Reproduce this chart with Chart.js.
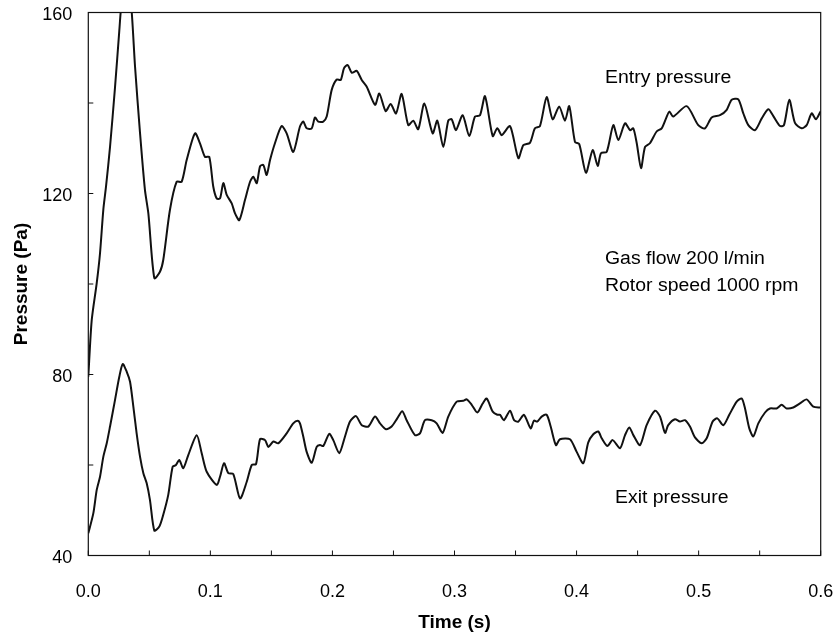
<!DOCTYPE html>
<html>
<head>
<meta charset="utf-8">
<script src="https://cdn.jsdelivr.net/npm/chart.js@4.4.0/dist/chart.umd.min.js"></script>
<style>
  html, body { margin: 0; padding: 0; background: #fff; }
  #c { display: block; }
</style>
</head>
<body>
<canvas id="c" width="837" height="637" style="width:837px;height:637px"></canvas>
<script>
// values
const entryTime = [0, 0.0028, 0.0069, 0.0096, 0.0123, 0.0145, 0.0178, 0.0219, 0.0254, 0.0265,
  0.031, 0.0356, 0.0383, 0.0424, 0.0464, 0.0492, 0.0541, 0.0587, 0.0614, 0.0669,
  0.0724, 0.0765, 0.0806, 0.0874, 0.0915, 0.0956, 0.0991, 0.1024, 0.1052, 0.1079,
  0.1106, 0.1134, 0.1175, 0.1202, 0.1237, 0.1284, 0.1325, 0.1352, 0.1380, 0.1407,
  0.1434, 0.1461, 0.1489, 0.1529, 0.1584, 0.1625, 0.1679, 0.1734, 0.1761, 0.1789,
  0.1830, 0.1857, 0.1884, 0.1925, 0.1953, 0.1994, 0.2035, 0.2068, 0.2095, 0.2125,
  0.2158, 0.2199, 0.2240, 0.2281, 0.2349, 0.2384, 0.2436, 0.2477, 0.2521, 0.2567,
  0.2621, 0.2662, 0.2703, 0.2753, 0.2821, 0.2859, 0.2908, 0.2949, 0.2977, 0.3012,
  0.3067, 0.3121, 0.3168, 0.3209, 0.3250, 0.3313, 0.3351, 0.3387, 0.3455, 0.3523,
  0.3564, 0.3618, 0.3659, 0.3700, 0.3755, 0.3804, 0.3858, 0.3905, 0.3940, 0.3987,
  0.4022, 0.4077, 0.4132, 0.4173, 0.4200, 0.4247, 0.4301, 0.4342, 0.4397, 0.4438,
  0.4465, 0.4493, 0.4528, 0.4561, 0.4601, 0.4656, 0.4697, 0.4733, 0.4760, 0.4792,
  0.4902, 0.4997, 0.5052, 0.5107, 0.5175, 0.5230, 0.5271, 0.5325, 0.5366, 0.5407,
  0.5462, 0.5517, 0.5571, 0.5612, 0.5667, 0.5699, 0.5743, 0.5789, 0.5844, 0.5885,
  0.5926, 0.5961, 0.6];
const entryPressure = [79.5, 92, 100.2, 106.8, 116.4, 121.5, 130.3, 143.5, 156, 160,
  173, 160, 148, 133.3, 120.8, 115.6, 101.3, 102.7, 105.3, 116.4,
  122.6, 122.6, 127.4, 133.3, 131.1, 128.1, 128.1, 121.5, 118.9, 118.9,
  122.3, 119.7, 117.8, 115.6, 114.1, 118.6, 122.6, 123.7, 122.3, 126,
  126.3, 124.1, 127.4, 131.1, 134.9, 133.3, 129.2, 134.8, 135.9, 134.4,
  134.4, 136.8, 135.9, 135.9, 137, 142.9, 145.2, 145.1, 147.7, 148.4,
  146.7, 147.1, 145.1, 143.6, 139.6, 142.1, 138.2, 139.8, 137.7, 142,
  135.1, 136.1, 134.2, 139.9, 133.3, 136.1, 130.3, 136.1, 136.4, 134,
  137.3, 132.7, 137, 137.3, 141.5, 132.7, 134.4, 132.9, 134.9, 127.8,
  130.7, 131.2, 134.4, 134.9, 141.3, 136.4, 139.2, 136.1, 139.3, 131.4,
  130.9, 124.6, 129.6, 126.1, 128.9, 129.2, 135.1, 131.8, 135.5, 134,
  134.4, 131.1, 125.6, 130.3, 131.1, 133.7, 134.4, 136.6, 138.1, 137,
  139.3, 135.1, 134.4, 136.8, 137.3, 138.5, 140.7, 140.8, 137.7, 135.1,
  134, 136.6, 138.6, 137.1, 134.9, 135.1, 140.7, 135.6, 134.4, 135.1,
  137.7, 136.4, 138.2];

const exitTime = [0, 0.0041, 0.0069, 0.0096, 0.0123, 0.0151, 0.0178, 0.0219, 0.0254, 0.0282,
  0.0315, 0.0342, 0.0369, 0.0396, 0.0424, 0.0451, 0.0478, 0.0505, 0.0541, 0.0582,
  0.0614, 0.0655, 0.0691, 0.0718, 0.0745, 0.0778, 0.0819, 0.0888, 0.0929, 0.0970,
  0.1052, 0.1079, 0.1112, 0.1147, 0.1188, 0.1243, 0.1298, 0.1339, 0.1374, 0.1407,
  0.1448, 0.1475, 0.1516, 0.1556, 0.1625, 0.1679, 0.1715, 0.1734, 0.1761, 0.1789,
  0.1830, 0.1871, 0.1898, 0.1925, 0.1974, 0.2007, 0.2056, 0.2103, 0.2144, 0.2193,
  0.2240, 0.2294, 0.2349, 0.2390, 0.2439, 0.2485, 0.2531, 0.2572, 0.2608, 0.2676,
  0.2717, 0.2758, 0.2813, 0.2854, 0.2903, 0.2949, 0.3018, 0.3072, 0.3100, 0.3141,
  0.3187, 0.3231, 0.3264, 0.3313, 0.3351, 0.3373, 0.3405, 0.3455, 0.3488, 0.3523,
  0.3569, 0.3624, 0.3651, 0.3678, 0.3714, 0.3755, 0.3788, 0.3831, 0.3864, 0.3946,
  0.4001, 0.4055, 0.4096, 0.4137, 0.4178, 0.4206, 0.4252, 0.4296, 0.4356, 0.4397,
  0.4432, 0.4465, 0.4520, 0.4574, 0.4643, 0.4684, 0.4725, 0.4751, 0.4806, 0.4847,
  0.4888, 0.4929, 0.4970, 0.5025, 0.5066, 0.5115, 0.5153, 0.5202, 0.5251, 0.5312,
  0.5353, 0.5380, 0.5415, 0.5448, 0.5489, 0.5544, 0.5584, 0.5639, 0.5680, 0.5721,
  0.5775, 0.5830, 0.5885, 0.5939, 0.6];
const exitPressure = [44.9, 49.3, 54.5, 57.4, 61.8, 64.8, 68.5, 74.4, 79.5, 82.3,
  80.6, 78.4, 72.9, 67, 61.8, 58.2, 56, 52.3, 45.5, 46.4,
  49, 53.4, 59.6, 60, 61.1, 59.3, 62.2, 66.6, 62.6, 58.5,
  55.6, 57.4, 60.4, 58.2, 58, 52.6, 56.3, 60, 60.2, 65.7,
  65.5, 64, 65.2, 64.8, 67, 69.2, 69.8, 69.2, 66.3, 62.9,
  60.5, 64, 64.4, 64.2, 66.9, 65.5, 62.6, 66.3, 69.6, 70.8,
  68.8, 68.5, 70.7, 69.2, 67.9, 68.5, 70.3, 71.9, 69.9, 66.6,
  67, 69.9, 69.9, 69.2, 67.1, 70.7, 74, 74.2, 74.5, 73.3,
  71.6, 73.6, 74.7, 71.8, 71.1, 71.1, 69.9, 72, 69.9, 69.6,
  71.1, 68.1, 69.8, 69.6, 70.7, 71.1, 68.5, 64.4, 65.7, 65.7,
  62.9, 60.4, 65, 66.8, 67.4, 65.9, 64.2, 65.5, 63.7, 66.6,
  68.3, 66.6, 64.4, 68.8, 72, 70.7, 67.1, 68.8, 70.1, 69.6,
  69.9, 68.5, 66.1, 64.8, 65.9, 69.6, 70.3, 68.8, 71.1, 74,
  74.7, 72.5, 68.1, 66.3, 69.2, 71.6, 72.5, 72.5, 73.3, 72.5,
  72.7, 73.6, 74.5, 72.9, 72.7];

// labelled ticks
const xTickValues = [0, 0.1, 0.2, 0.3, 0.4, 0.5, 0.6];
const xTickLabels = ['0.0', '0.1', '0.2', '0.3', '0.4', '0.5', '0.6'];
const yTickValues = [40, 80, 120, 160];
const yTickLabels = ['40', '80', '120', '160'];

// text written inside the plot
const notes = [
  { text: 'Entry pressure', x: 605, y: 83 },
  { text: 'Gas flow 200 l/min', x: 605, y: 263.5 },
  { text: 'Rotor speed 1000 rpm', x: 605, y: 290.5 },
  { text: 'Exit pressure', x: 615, y: 502.5 }
];

const toPoints = (xs, ys) => xs.map((x, i) => ({ x: x, y: ys[i] }));

function findLabel(values, labels, v) {
  for (let i = 0; i < values.length; i++) {
    if (Math.abs(values[i] - v) < 1e-6) return labels[i];
  }
  return '';
}

const FONT = "'Liberation Sans', Arial, Helvetica, sans-serif";

// frame, inward ticks and notes
const framePlugin = {
  id: 'frame',
  afterDraw(chart) {
    const { ctx, chartArea: a } = chart;
    const xs = chart.scales.x, ys = chart.scales.y;
    ctx.save();
    ctx.strokeStyle = '#111';
    ctx.lineWidth = 1.2;
    ctx.strokeRect(a.left, a.top, a.right - a.left, a.bottom - a.top);

    ctx.beginPath();
    xs.ticks.forEach(t => {
      const px = xs.getPixelForValue(t.value);
      ctx.moveTo(px, a.bottom);
      ctx.lineTo(px, a.bottom - 5);
    });
    ys.ticks.forEach(t => {
      const py = ys.getPixelForValue(t.value);
      ctx.moveTo(a.left, py);
      ctx.lineTo(a.left + 5, py);
    });
    ctx.lineWidth = 1;
    ctx.stroke();

    ctx.fillStyle = '#000';
    ctx.font = '18px ' + FONT;
    ctx.textAlign = 'left';
    ctx.textBaseline = 'alphabetic';
    notes.forEach(n => {
      ctx.save();
      ctx.translate(n.x, n.y);
      ctx.scale(1.08, 1);
      ctx.fillText(n.text, 0, 0);
      ctx.restore();
    });
    ctx.restore();
  }
};

new Chart(document.getElementById('c'), {
  type: 'line',
  data: {
    datasets: [
      {
        label: 'Entry pressure',
        data: toPoints(entryTime, entryPressure),
        borderColor: '#111',
        borderWidth: 2,
        pointRadius: 0,
        tension: 0.25
      },
      {
        label: 'Exit pressure',
        data: toPoints(exitTime, exitPressure),
        borderColor: '#111',
        borderWidth: 2,
        pointRadius: 0,
        tension: 0.25
      }
    ]
  },
  options: {
    responsive: false,
    animation: false,
    layout: { padding: { top: 12.5, right: 16.3, left: 0, bottom: 0 } },
    plugins: {
      legend: { display: false },
      tooltip: { enabled: false }
    },
    scales: {
      x: {
        type: 'linear',
        min: 0,
        max: 0.6,
        grid: { display: false, drawTicks: false },
        border: { display: false },
        ticks: {
          stepSize: 0.05,
          autoSkip: false,
          maxRotation: 0,
          padding: 26,
          color: '#000',
          font: { family: FONT, size: 18 },
          callback: v => findLabel(xTickValues, xTickLabels, v)
        },
        title: {
          display: true,
          text: 'Time (s)',
          color: '#000',
          font: { family: FONT, size: 19, weight: 'bold' },
          padding: { top: 0, bottom: 3 }
        },
        afterFit: s => {
          s.height = 81.5;
          s.paddingLeft = 0;
          s.paddingRight = 0;
        }
      },
      y: {
        min: 40,
        max: 160,
        grid: { display: false, drawTicks: false },
        border: { display: false },
        ticks: {
          stepSize: 20,
          autoSkip: false,
          padding: 16,
          labelOffset: 3,
          color: '#000',
          font: { family: FONT, size: 18 },
          callback: v => findLabel(yTickValues, yTickLabels, v)
        },
        title: {
          display: true,
          text: 'Pressure (Pa)',
          color: '#000',
          font: { family: FONT, size: 19, weight: 'bold' },
          padding: { top: 10, bottom: 0 }
        },
        afterFit: s => {
          s.width = 88.3;
          s.paddingTop = 0;
          s.paddingBottom = 0;
        }
      }
    }
  },
  plugins: [framePlugin]
});
</script>
</body>
</html>
